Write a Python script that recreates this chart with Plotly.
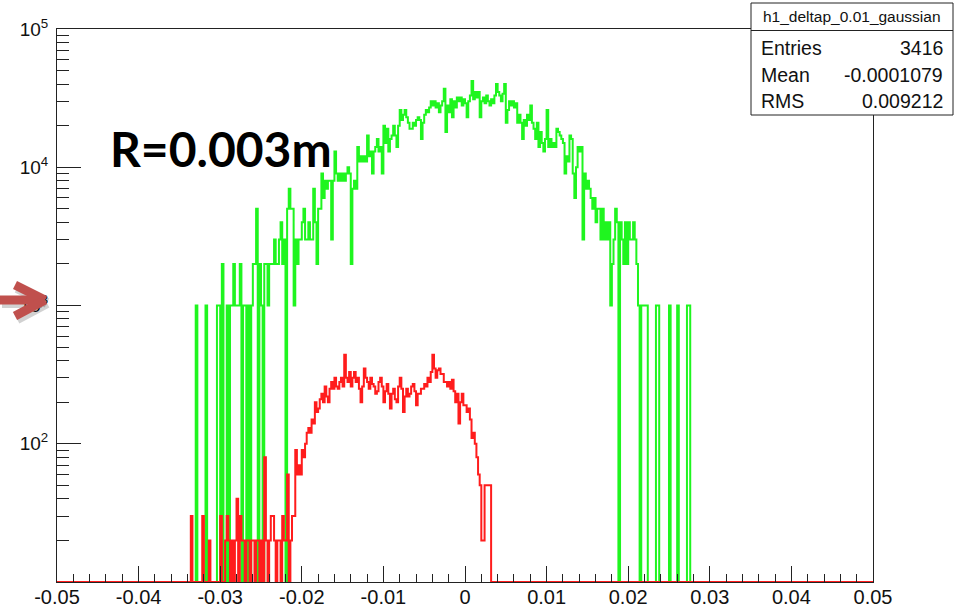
import plotly.graph_objects as go

# ---- histogram binning -------------------------------------------------
x_lo, x_hi = -0.05, 0.05
bin_width = 0.0002
n_bins = 500
y_floor = 10  # lower edge of the log axis; empty bins sit on it

# ---- bin contents (filled region of each histogram) ---------------------
green_low_edge = -0.034
green_counts = [
    0, 0, 0, 0, 0, 1000, 0, 0, 0, 0,
    0, 1000, 0, 0, 0, 0, 0, 0, 1000, 1000,
    0, 2000, 0, 0, 1000, 0, 1000, 1000, 2000, 1000,
    1000, 1000, 2000, 0, 1000, 1000, 0, 1000, 0, 1000,
    2000, 2000, 5000, 0, 2000, 1000, 0, 2000, 2000, 1000,
    2000, 2000, 2000, 3000, 2000, 2000, 3000, 4000, 2000, 3000,
    0, 5000, 7000, 5000, 5000, 1000, 3000, 2000, 3000, 3000,
    4000, 5000, 3000, 3000, 4000, 3000, 3000, 7000, 4000, 2000,
    5000, 5000, 9000, 6000, 8000, 7000, 8000, 8000, 3000, 8000,
    13000, 9000, 8000, 9000, 8000, 9000, 8000, 9000, 10000, 9000,
    2000, 7000, 8000, 7000, 14000, 11000, 12000, 11000, 12000, 11000,
    17000, 12000, 13000, 9000, 13000, 14000, 16000, 13000, 14000, 9000,
    20000, 15000, 19000, 13000, 16000, 17000, 20000, 17000, 14000, 20000,
    26000, 22000, 24000, 26000, 23000, 21000, 19000, 19000, 21000, 20000,
    22000, 23000, 22000, 16000, 21000, 24000, 26000, 25000, 27000, 30000,
    28000, 30000, 27000, 29000, 25000, 28000, 30000, 37000, 18000, 28000,
    25000, 31000, 23000, 30000, 27000, 32000, 30000, 32000, 28000, 31000,
    29000, 23000, 30000, 33000, 42000, 31000, 35000, 32000, 35000, 23000,
    30000, 32000, 29000, 33000, 30000, 28000, 31000, 29000, 33000, 40000,
    35000, 33000, 30000, 34000, 40000, 21000, 26000, 30000, 28000, 30000,
    27000, 29000, 21000, 24000, 21000, 16000, 22000, 20000, 24000, 22000,
    28000, 21000, 19000, 16000, 21000, 14000, 18000, 15000, 13000, 16000,
    26000, 14000, 16000, 14000, 15000, 14000, 19000, 18000, 17000, 16000,
    15000, 9000, 12000, 11000, 17000, 16000, 9000, 6000, 10000, 14000,
    13000, 14000, 3000, 9000, 7000, 8000, 7000, 6000, 5000, 6000,
    4000, 5000, 5000, 3000, 5000, 3000, 4000, 3000, 4000, 1000,
    2000, 3000, 5000, 4000, 0, 4000, 3000, 2000, 4000, 2000,
    4000, 3000, 3000, 4000, 3000, 2000, 1000, 0, 1000, 1000,
    1000, 1000, 0, 0, 0, 0, 0, 1000, 1000, 0,
    0, 0, 0, 0, 0, 1000, 0, 0, 0, 0,
    1000, 0, 0, 0, 0, 0, 1000, 1000, 0,
]

red_low_edge = -0.034
red_counts = [
    0, 0, 30, 0, 0, 0, 0, 0, 0, 30,
    0, 0, 0, 20, 0, 0, 0, 0, 0, 0,
    30, 0, 0, 20, 30, 20, 0, 20, 0, 20,
    40, 0, 30, 20, 20, 0, 20, 20, 0, 20,
    20, 0, 20, 20, 0, 20, 0, 80, 20, 0,
    20, 30, 30, 20, 0, 20, 20, 0, 30, 20,
    20, 60, 0, 20, 30, 30, 90, 60, 70, 60,
    90, 80, 100, 120, 130, 120, 150, 140, 200, 170,
    180, 210, 230, 200, 260, 220, 200, 250, 280, 250,
    300, 260, 250, 280, 300, 260, 440, 300, 280, 330,
    260, 300, 330, 280, 300, 250, 200, 260, 350, 300,
    280, 250, 300, 270, 260, 230, 240, 280, 300, 260,
    200, 240, 270, 230, 180, 230, 250, 210, 200, 260,
    300, 250, 170, 220, 250, 220, 230, 260, 270, 240,
    190, 230, 230, 250, 250, 270, 260, 300, 280, 330,
    440, 350, 300, 340, 350, 320, 320, 280, 280, 260,
    280, 250, 290, 240, 200, 230, 140, 200, 230, 190,
    190, 170, 180, 150, 110, 120, 100, 80, 60, 50,
    20, 20, 50, 50, 50, 50, 0,
]

# ---- stat box contents --------------------------------------------------
stat_title = "h1_deltap_0.01_gaussian"
stat_rows = [("Entries", "3416"), ("Mean", "-0.0001079"), ("RMS", "0.009212")]
label_text = "R=0.003m"

x_tick_vals = [-0.05, -0.04, -0.03, -0.02, -0.01, 0.0, 0.01, 0.02, 0.03, 0.04, 0.05]
x_tick_text = ["-0.05", "-0.04", "-0.03", "-0.02", "-0.01", "0",
               "0.01", "0.02", "0.03", "0.04", "0.05"]
y_tick_vals = [1e2, 1e3, 1e4, 1e5]
y_tick_text = ["10<sup>2</sup>", "10<sup>3</sup>", "10<sup>4</sup>", "10<sup>5</sup>"]


def full_hist(low_edge, counts):
    start = int(round((low_edge - x_lo) / bin_width))
    h = [0] * n_bins
    h[start:start + len(counts)] = counts
    return h


def step_xy(h):
    edges = [x_lo + k * bin_width for k in range(n_bins + 1)]
    ys = [max(v, y_floor) for v in h]
    return edges, ys + [ys[-1]]


GREEN = "#1ff51f"
RED = "#ff1c1c"

fig = go.Figure()
for h, col in ((full_hist(green_low_edge, green_counts), GREEN),
               (full_hist(red_low_edge, red_counts), RED)):
    xs, ys = step_xy(h)
    fig.add_trace(go.Scatter(x=xs, y=ys, mode="lines", line_shape="hv",
                             line=dict(color=col, width=2), hoverinfo="skip",
                             showlegend=False))

# ---- layout geometry (pixels) --------------------------------------------
W, H = 965, 608
L, R, T, B = 57, 92, 29, 26
PW, PH = W - L - R, H - T - B


def px(xp):
    return (xp - L) / PW


def py(yp):
    return (H - B - yp) / PH


x_minor = [round(-0.05 + 0.002 * k, 4) for k in range(51)]
y_minor = [m * 10 ** e for e in range(1, 5) for m in range(2, 10)]

fig.update_layout(
    width=W, height=H,
    margin=dict(l=L, r=R, t=T, b=B, autoexpand=False),
    paper_bgcolor="white", plot_bgcolor="white",
    xaxis=dict(range=[x_lo, x_hi], showgrid=False, zeroline=False,
               showline=True, linecolor="#222", linewidth=1, mirror=True,
               ticks="inside", ticklen=16, tickwidth=1, tickcolor="#222",
               tickmode="array", tickvals=x_tick_vals, ticktext=x_tick_text,
               ticklabelstandoff=-3,
               tickfont=dict(family="Liberation Sans, Arial, sans-serif", size=20, color="#111"),
               minor=dict(ticks="inside", ticklen=8, tickwidth=1, tickcolor="#222",
                          tickmode="array", tickvals=x_minor, showgrid=False)),
    yaxis=dict(type="log", range=[1, 5], showgrid=False, zeroline=False,
               showline=True, linecolor="#222", linewidth=1, mirror=True,
               ticks="inside", ticklen=24, tickwidth=1, tickcolor="#222",
               tickmode="array", tickvals=y_tick_vals, ticktext=y_tick_text,
               ticklabelstandoff=4,
               tickfont=dict(family="Liberation Sans, Arial, sans-serif", size=19, color="#111"),
               minor=dict(ticks="inside", ticklen=12, tickwidth=1, tickcolor="#222",
                          tickmode="array", tickvals=y_minor, showgrid=False)),
)

shapes = []
annotations = []

# stat box
bx0, bx1, by0, by1, bdiv = 751, 953, 3, 115, 30.5
shapes.append(dict(type="rect", xref="paper", yref="paper", layer="above",
                   x0=px(bx0), x1=px(bx1), y0=py(by1), y1=py(by0),
                   line=dict(color="#222", width=1), fillcolor="white"))
shapes.append(dict(type="line", xref="paper", yref="paper", layer="above",
                   x0=px(bx0), x1=px(bx1), y0=py(bdiv), y1=py(bdiv),
                   line=dict(color="#222", width=1)))
stat_font = dict(family="Liberation Sans, Arial, sans-serif", size=19.5, color="#111")
annotations.append(dict(text=stat_title, xref="paper", yref="paper",
                        x=px((bx0 + bx1) / 2), y=py(17), xanchor="center", yanchor="middle",
                        showarrow=False,
                        font=dict(family="Liberation Sans, Arial, sans-serif", size=15.5, color="#111")))
for (name, val), yc in zip(stat_rows, [48, 75, 101]):
    annotations.append(dict(text=name, xref="paper", yref="paper", x=px(759), y=py(yc),
                            xanchor="left", yanchor="middle", showarrow=False, font=stat_font))
    annotations.append(dict(text=val, xref="paper", yref="paper", x=px(945), y=py(yc),
                            xanchor="right", yanchor="middle", showarrow=False, font=stat_font))

# big label
annotations.append(dict(text="<b>" + label_text + "</b>", xref="paper", yref="paper",
                        x=px(108), y=py(148), xanchor="left", yanchor="middle",
                        showarrow=False,
                        font=dict(family="Lato, Open Sans, sans-serif", size=48, color="black")))

# pointer arrow at the 10^3 label
ARROW = "#c0504d"
arrow_segs = [((0, 300), (40, 300)), ((15, 285), (45, 300)), ((15, 316), (45, 300))]
for (a, b) in arrow_segs:
    shapes.append(dict(type="line", xref="paper", yref="paper", layer="above",
                       x0=px(a[0] + 2), y0=py(a[1] + 3), x1=px(b[0] + 2), y1=py(b[1] + 3),
                       line=dict(color="rgba(0,0,0,0.18)", width=10)))
for (a, b) in arrow_segs:
    shapes.append(dict(type="line", xref="paper", yref="paper", layer="above",
                       x0=px(a[0]), y0=py(a[1]), x1=px(b[0]), y1=py(b[1]),
                       line=dict(color=ARROW, width=9)))

fig.update_layout(shapes=shapes, annotations=annotations)
fig.write_html("out.html")
